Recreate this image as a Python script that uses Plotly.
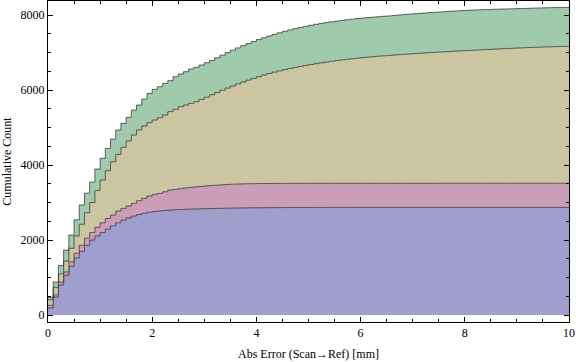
import numpy as np
import plotly.graph_objects as go

# Cumulative counts per 0.1 mm bin (upper boundary of each stacked band)
blue = [190, 480, 800, 1060, 1300, 1520, 1700, 1860, 2000, 2110,
        2200, 2290, 2380, 2460, 2530, 2590, 2640, 2680, 2715, 2740,
        2760, 2775, 2790, 2800, 2810, 2815, 2820, 2825, 2830, 2834,
        2838, 2841, 2844, 2847, 2850, 2853, 2855, 2857, 2859, 2861,
        2862, 2863, 2864, 2865, 2866, 2867, 2868, 2868, 2869, 2869,
        2870, 2870, 2870, 2871, 2871, 2871, 2871, 2871, 2872, 2872,
        2872, 2872, 2872, 2872, 2872, 2872, 2872, 2872, 2872, 2872,
        2872, 2872, 2872, 2872, 2872, 2872, 2872, 2872, 2872, 2872,
        2872, 2872, 2872, 2872, 2872, 2872, 2872, 2872, 2872, 2872,
        2872, 2872, 2872, 2872, 2872, 2872, 2872, 2872, 2872, 2872]
pink = [260, 540, 880, 1150, 1420, 1650, 1860, 2050, 2200, 2340,
        2460, 2578, 2667, 2774, 2845, 2907, 2978, 3049, 3111, 3174,
        3218, 3245, 3289, 3334, 3351, 3370, 3390, 3405, 3420, 3432,
        3443, 3455, 3465, 3474, 3482, 3489, 3494, 3498, 3502, 3505,
        3507, 3508, 3509, 3510, 3511, 3511, 3512, 3512, 3513, 3513,
        3513, 3514, 3514, 3514, 3514, 3514, 3514, 3514, 3514, 3514,
        3514, 3514, 3514, 3514, 3514, 3514, 3514, 3514, 3514, 3514,
        3514, 3514, 3514, 3514, 3515, 3515, 3515, 3515, 3515, 3515,
        3515, 3515, 3515, 3515, 3515, 3515, 3515, 3515, 3515, 3515,
        3515, 3515, 3515, 3515, 3515, 3515, 3515, 3515, 3515, 3515]
tan = [410, 740, 1100, 1440, 1780, 2110, 2420, 2730, 3000, 3320,
       3600, 3849, 4089, 4285, 4472, 4641, 4801, 4934, 5041, 5130,
       5200, 5262, 5334, 5423, 5485, 5556, 5600, 5645, 5690, 5752,
       5810, 5873, 5935, 5995, 6053, 6109, 6163, 6215, 6265, 6313,
       6358, 6400, 6440, 6477, 6512, 6545, 6576, 6605, 6632, 6657,
       6681, 6704, 6726, 6747, 6767, 6786, 6804, 6821, 6837, 6852,
       6866, 6879, 6891, 6903, 6914, 6925, 6935, 6945, 6955, 6964,
       6973, 6982, 6991, 7000, 7008, 7016, 7024, 7032, 7040, 7047,
       7054, 7061, 7068, 7075, 7082, 7089, 7096, 7103, 7110, 7116,
       7122, 7128, 7134, 7140, 7145, 7150, 7154, 7158, 7162, 7165]
green = [470, 880, 1320, 1730, 2133, 2540, 2935, 3250, 3545, 3894,
         4180, 4445, 4694, 4934, 5112, 5272, 5467, 5600, 5760, 5912,
         6019, 6090, 6179, 6250, 6357, 6428, 6490, 6561, 6606, 6668,
         6730, 6790, 6860, 6930, 7000, 7065, 7125, 7183, 7240, 7295,
         7347, 7396, 7442, 7486, 7527, 7566, 7603, 7638, 7670, 7700,
         7728, 7754, 7778, 7800, 7821, 7840, 7858, 7875, 7891, 7906,
         7920, 7933, 7945, 7956, 7967, 7977, 7990, 8002, 8014, 8025,
         8036, 8046, 8056, 8066, 8075, 8084, 8093, 8102, 8111, 8119,
         8126, 8132, 8138, 8143, 8148, 8153, 8157, 8161, 8165, 8169,
         8173, 8177, 8181, 8185, 8189, 8193, 8197, 8200, 8203, 8205]

bin_width = 0.1
x_ticks = [0, 2, 4, 6, 8, 10]
y_ticks = [0, 2000, 4000, 6000, 8000]
x_title = "Abs Error (Scan→Ref) [mm]"
y_title = "Cumulative Count"

for s in (blue, pink, tan, green):
    assert len(s) == 100, len(s)

edges = np.round(np.arange(len(blue) + 1) * bin_width, 2)

layers = [
    (blue, "rgb(160,158,205)", "tozeroy"),
    (pink, "rgb(204,157,184)", "tonexty"),
    (tan, "rgb(203,198,161)", "tonexty"),
    (green, "rgb(159,203,172)", "tonexty"),
]

fig = go.Figure()
for vals, col, fill in layers:
    fig.add_trace(go.Scatter(
        x=edges, y=list(vals) + [vals[-1]],
        mode="lines", line=dict(shape="hv", color="rgba(40,40,40,0.7)", width=1),
        fill=fill, fillcolor=col, showlegend=False, hoverinfo="skip",
    ))

font = dict(family="Liberation Serif, Times New Roman, serif", size=12, color="black")
axis_common = dict(
    showgrid=False, zeroline=False, showline=True, linecolor="black", linewidth=1,
    mirror="allticks", ticks="inside", ticklen=5, tickcolor="black", tickwidth=1,
    tickfont=font, automargin=False,
)
fig.update_layout(
    width=576, height=362,
    margin=dict(l=48, r=7, t=1, b=40, autoexpand=False),
    paper_bgcolor="white", plot_bgcolor="white",
    font=font,
    xaxis=dict(range=[0, 10], tickvals=x_ticks,
               minor=dict(dtick=0.5, ticklen=3, ticks="inside", tickcolor="black"),
               title=dict(text=x_title, font=font, standoff=10), **axis_common),
    yaxis=dict(range=[-185, 8375], tickvals=y_ticks,
               minor=dict(dtick=500, ticklen=3, ticks="inside", tickcolor="black"),
               title=dict(text=y_title, font=font, standoff=7), **axis_common),
)
fig.write_html(
    "out.html",
    config={"displayModeBar": False, "staticPlot": True},
    post_script="document.body.style.margin='0px';document.body.style.overflow='hidden';",
)
